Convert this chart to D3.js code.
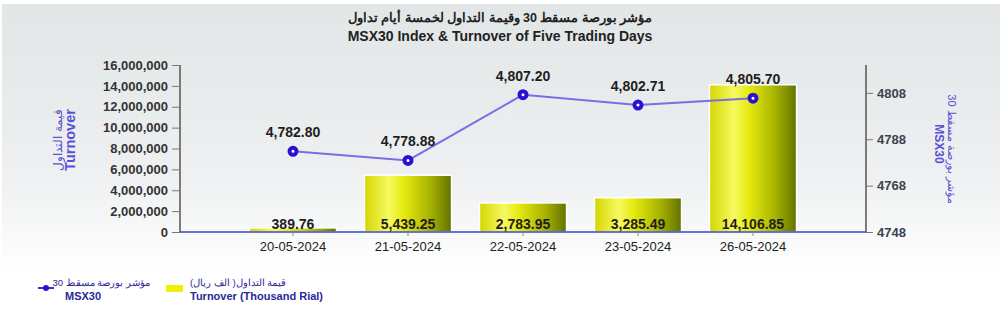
<!DOCTYPE html>
<html>
<head>
<meta charset="utf-8">
<script src="https://cdn.jsdelivr.net/npm/d3@7"></script>
<style>
  body { margin: 0; background: #fff; }
  svg { font-family: "Liberation Sans", Arial, sans-serif; display: block; }
</style>
</head>
<body>
<div id="chart"></div>
<script>
const days = ['20-05-2024', '21-05-2024', '22-05-2024', '23-05-2024', '26-05-2024'];
const turnover = [389.76, 5439.25, 2783.95, 3285.49, 14106.85]; // thousand rial
const msx30 = [4782.80, 4778.88, 4807.20, 4802.71, 4805.70];
const leftTicks = [0, 2000000, 4000000, 6000000, 8000000, 10000000, 12000000, 14000000, 16000000];
const rightTicks = [4748, 4768, 4788, 4808];

const width = 1000, height = 319;
const margin = { top: 65, left: 180, right: 134, bottom: 87 };
const graphWidth = width - margin.left - margin.right;
const graphHeight = height - margin.top - margin.bottom;

// wrap arabic in a right-to-left embedding so trailing numbers sit on the left
const rtl = (s) => '\u202B' + s + '\u202C';

const svg = d3.select('#chart').append('svg').attr('width', width).attr('height', height);
const defs = svg.append('defs');

const bg = defs.append('linearGradient').attr('id', 'bg').attr('x1', 0).attr('y1', 0).attr('x2', 0).attr('y2', 1);
bg.append('stop').attr('offset', '0%').attr('stop-color', '#e2e6e7');
bg.append('stop').attr('offset', '55%').attr('stop-color', '#eef0f1');
bg.append('stop').attr('offset', '85%').attr('stop-color', '#ffffff');

const barGrad = defs.append('linearGradient').attr('id', 'barGrad').attr('x1', 0).attr('y1', 0).attr('x2', 1).attr('y2', 0);
barGrad.append('stop').attr('offset', '0%').attr('stop-color', '#d4d600');
barGrad.append('stop').attr('offset', '28%').attr('stop-color', '#f6fa60');
barGrad.append('stop').attr('offset', '45%').attr('stop-color', '#e6ea10');
barGrad.append('stop').attr('offset', '75%').attr('stop-color', '#a8b400');
barGrad.append('stop').attr('offset', '100%').attr('stop-color', '#627200');

svg.append('rect').attr('x', 2).attr('y', 4).attr('width', width - 2).attr('height', height - 4).attr('fill', 'url(#bg)');

// titles
svg.append('text').attr('x', 500).attr('y', 22).attr('text-anchor', 'middle')
    .attr('font-size', 12.5).attr('font-weight', 'bold').attr('fill', '#222')
    .text(rtl('مؤشر بورصة مسقط 30 وقيمة التداول لخمسة أيام تداول'));
svg.append('text').attr('x', 500).attr('y', 41).attr('text-anchor', 'middle')
    .attr('font-size', 14).attr('font-weight', 'bold').attr('fill', '#222')
    .text('MSX30 Index & Turnover of Five Trading Days');

const graph = svg.append('g').attr('transform', `translate(${margin.left}, ${margin.top})`);

const xScale = d3.scaleBand().domain(days).range([0, graphWidth]).paddingInner(0.243).paddingOuter(0.604);
const yLeft = d3.scaleLinear().domain([0, 16000000]).range([graphHeight, 0]);
const yRight = d3.scaleLinear().domain([4748, 4820]).range([graphHeight, 0]);

// bars
graph.append('g').selectAll('rect').data(turnover).enter().append('rect')
    .attr('x', (d, i) => xScale(days[i]))
    .attr('width', xScale.bandwidth())
    .attr('y', (d) => yLeft(d * 1000))
    .attr('height', (d) => graphHeight - yLeft(d * 1000))
    .attr('fill', 'url(#barGrad)')
    .attr('stroke', '#ffffff')
    .attr('stroke-width', 1.5);

// left axis
const leftAxis = graph.append('g').call(d3.axisLeft(yLeft).tickValues(leftTicks).tickSize(8).tickPadding(4).tickFormat(d3.format(',')));
leftAxis.select('.domain').attr('stroke', '#555').attr('stroke-width', 1.5).attr('d', `M0,0V${graphHeight}`);
leftAxis.selectAll('.tick line').attr('stroke', '#777');
leftAxis.selectAll('text').attr('font-size', 13).attr('font-weight', 'bold').attr('fill', '#333').attr('font-family', null);

// right axis
const rightAxis = graph.append('g').attr('transform', `translate(${graphWidth}, 0)`)
    .call(d3.axisRight(yRight).tickValues(rightTicks).tickSize(7).tickPadding(4).tickFormat(d3.format('d')));
rightAxis.select('.domain').attr('stroke', '#555').attr('stroke-width', 1.5).attr('d', `M0,0V${graphHeight}`);
rightAxis.selectAll('.tick line').attr('stroke', '#777');
rightAxis.selectAll('text').attr('font-size', 13).attr('font-weight', 'bold').attr('fill', '#3a4450').attr('font-family', null);

// bottom axis
const bottomAxis = graph.append('g').attr('transform', `translate(0, ${graphHeight})`)
    .call(d3.axisBottom(xScale).tickSize(4).tickPadding(6));
bottomAxis.select('.domain').attr('stroke', '#3a44c4').attr('stroke-width', 1.5).attr('d', `M0,0H${graphWidth}`);
bottomAxis.selectAll('.tick line').attr('stroke', '#888');
bottomAxis.selectAll('text').attr('font-size', 13).attr('fill', '#222').attr('font-family', null);

// bar value labels
graph.append('g').selectAll('text').data(turnover).enter().append('text')
    .attr('x', (d, i) => xScale(days[i]) + xScale.bandwidth() / 2)
    .attr('y', graphHeight - 3)
    .attr('text-anchor', 'middle')
    .attr('font-size', 14).attr('font-weight', 'bold').attr('fill', '#1e1e1e')
    .text((d) => d3.format(',.2f')(d));

// index line
const cx = (i) => xScale(days[i]) + xScale.bandwidth() / 2;
const line = d3.line().x((d, i) => cx(i)).y((d) => yRight(d));
graph.append('path').datum(msx30).attr('d', line).attr('fill', 'none').attr('stroke', '#7a6ee6').attr('stroke-width', 2);

graph.append('g').selectAll('circle').data(msx30).enter().append('circle')
    .attr('cx', (d, i) => cx(i)).attr('cy', (d) => yRight(d)).attr('r', 3.5)
    .attr('fill', '#ffffff').attr('stroke', '#2c10d0').attr('stroke-width', 4);

graph.append('g').selectAll('text').data(msx30).enter().append('text')
    .attr('x', (d, i) => cx(i)).attr('y', (d) => yRight(d) - 14)
    .attr('text-anchor', 'middle')
    .attr('font-size', 14).attr('font-weight', 'bold').attr('fill', '#1e1e1e')
    .text((d) => d3.format(',.2f')(d));

// axis titles
const leftTitle = svg.append('g').attr('transform', 'translate(64, 140) rotate(-90)');
leftTitle.append('text').attr('y', -2).attr('text-anchor', 'middle')
    .attr('font-size', 12).attr('fill', '#5a52d4').text(rtl('قيمة التداول'));
leftTitle.append('text').attr('y', 11).attr('text-anchor', 'middle')
    .attr('font-size', 14.5).attr('font-weight', 'bold').attr('fill', '#5a52d4').text('Turnover');

const rightTitle = svg.append('g').attr('transform', 'translate(946, 149) rotate(90)');
rightTitle.append('text').attr('y', -2).attr('text-anchor', 'middle')
    .attr('font-size', 11).attr('fill', '#5a52d4').text(rtl('مؤشر بورصة مسقط 30'));
rightTitle.append('text').attr('y', 11).attr('x', -5).attr('text-anchor', 'middle')
    .attr('font-size', 12).attr('font-weight', 'bold').attr('fill', '#5a52d4').text('MSX30');

// legend
const legend = svg.append('g');
legend.append('line').attr('x1', 38).attr('x2', 54).attr('y1', 288).attr('y2', 288).attr('stroke', '#3b2fd0').attr('stroke-width', 2);
legend.append('circle').attr('cx', 46).attr('cy', 288).attr('r', 3).attr('fill', '#2a10c8');
legend.append('text').attr('x', 150).attr('y', 286).attr('text-anchor', 'end')
    .attr('font-size', 9.5).attr('fill', '#2b2898').text(rtl('مؤشر بورصة مسقط 30'));
legend.append('text').attr('x', 65).attr('y', 300)
    .attr('font-size', 11).attr('font-weight', 'bold').attr('fill', '#2b2898').text('MSX30');

legend.append('rect').attr('x', 166).attr('y', 285).attr('width', 17).attr('height', 7).attr('fill', '#eef200');
legend.append('text').attr('x', 190).attr('y', 286)
    .attr('font-size', 9.5).attr('fill', '#2b2898').text(rtl('قيمة التداول( الف ريال)'));
legend.append('text').attr('x', 190).attr('y', 300)
    .attr('font-size', 11).attr('font-weight', 'bold').attr('fill', '#2b2898').text('Turnover (Thousand Rial)');
</script>
</body>
</html>
